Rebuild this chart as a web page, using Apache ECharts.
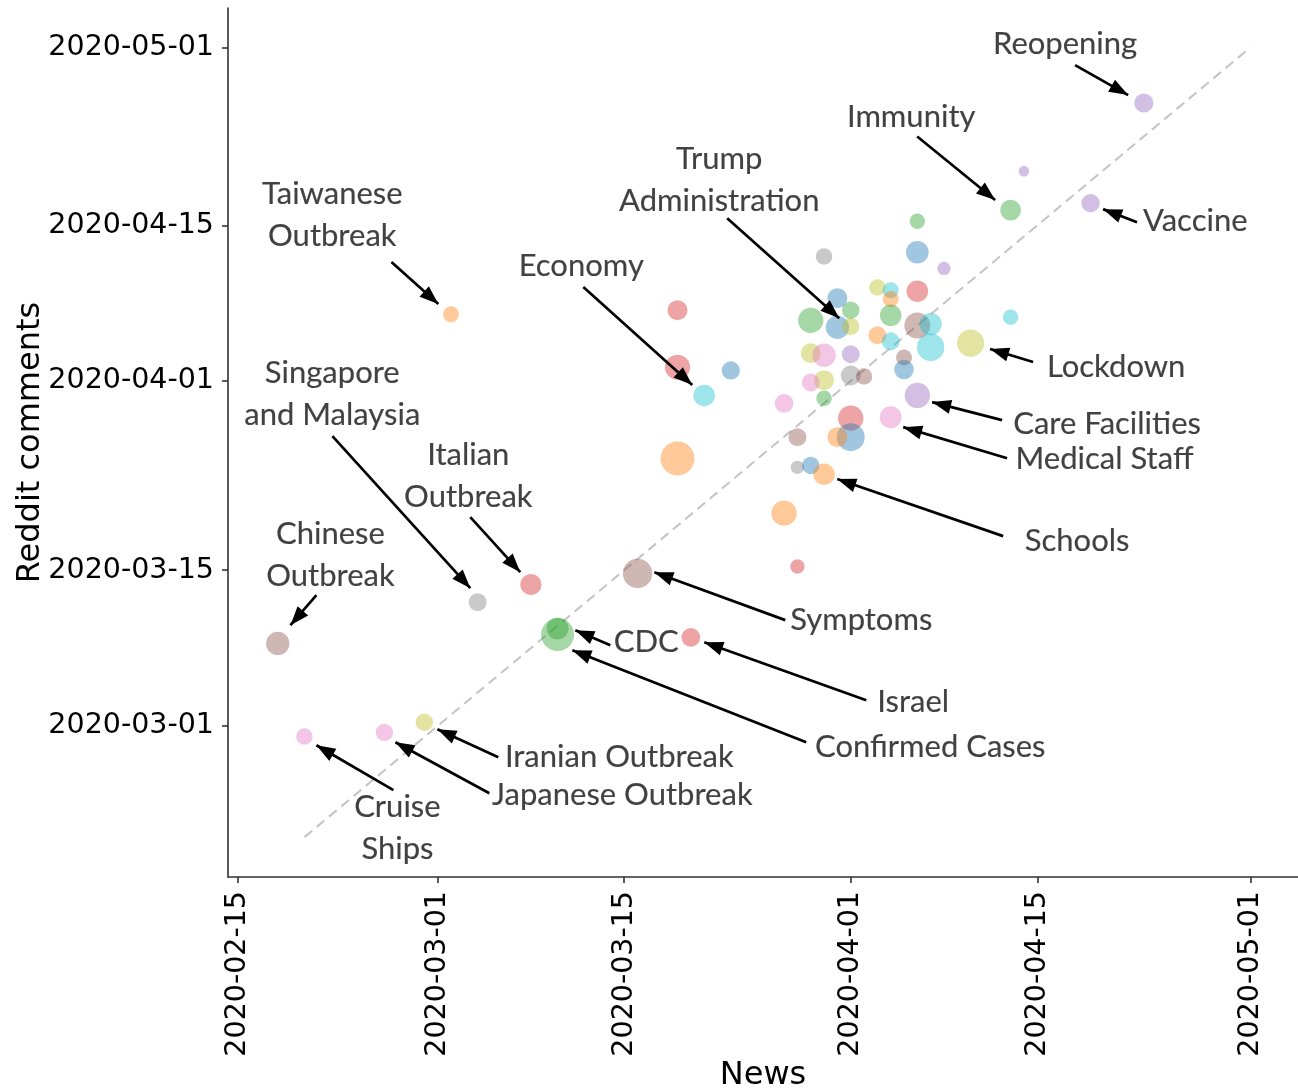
<!DOCTYPE html>
<html><head><meta charset="utf-8">
<script src="https://cdn.jsdelivr.net/npm/echarts@6/dist/echarts.min.js"></script>
<style>html,body{margin:0;padding:0;background:#fff}#c{width:1298px;height:1090px}</style>
</head><body><div id="c"></div>
<script>
// ---- data ----
const tickDates = ['2020-02-15','2020-03-01','2020-03-15','2020-04-01','2020-04-15','2020-05-01'];
const newsPeak = ['2020-04-23','2020-04-14','2020-04-19','2020-04-13','2020-04-06','2020-04-06','2020-03-30','2020-04-08','2020-04-03','2020-04-04',
  '2020-04-06','2020-04-04','2020-03-31','2020-03-19','2020-03-02','2020-04-01','2020-04-04','2020-04-13','2020-03-29','2020-04-06',
  '2020-04-07','2020-03-31','2020-04-01','2020-04-03','2020-04-04','2020-04-07','2020-04-10','2020-03-29','2020-03-30','2020-04-01',
  '2020-04-05','2020-03-19','2020-03-23','2020-04-05','2020-04-01','2020-04-02','2020-03-30','2020-03-29','2020-03-21','2020-04-06',
  '2020-03-30','2020-03-27','2020-04-04','2020-04-01','2020-04-01','2020-03-31','2020-03-28','2020-03-19','2020-03-28','2020-03-29',
  '2020-03-30','2020-03-27','2020-03-28','2020-03-16','2020-03-08','2020-03-04','2020-03-10','2020-03-10','2020-03-20','2020-02-18',
  '2020-02-29','2020-02-26','2020-02-20'];
const redditPeak = ['2020-04-26 00:00','2020-04-19 21:00','2020-04-17 00:00','2020-04-16 09:00','2020-04-15 09:00','2020-04-12 14:00','2020-04-12 05:00','2020-04-11 03:00','2020-04-09 10:00','2020-04-09 04:00',
  '2020-04-09 02:00','2020-04-08 09:00','2020-04-08 11:00','2020-04-07 09:00','2020-04-07 00:00','2020-04-07 09:00','2020-04-06 22:00','2020-04-06 18:00','2020-04-06 11:00','2020-04-06 00:00',
  '2020-04-06 03:00','2020-04-05 20:00','2020-04-05 22:00','2020-04-05 03:00','2020-04-04 14:00','2020-04-04 01:00','2020-04-04 10:00','2020-04-03 12:00','2020-04-03 08:00','2020-04-03 10:00',
  '2020-04-03 03:00','2020-04-02 06:00','2020-04-01 23:00','2020-04-02 01:00','2020-04-01 12:00','2020-04-01 10:00','2020-04-01 02:00','2020-03-31 21:00','2020-03-30 17:00','2020-03-30 17:00',
  '2020-03-30 11:00','2020-03-30 00:00','2020-03-28 18:00','2020-03-28 16:00','2020-03-26 23:00','2020-03-26 23:00','2020-03-26 23:00','2020-03-25 01:00','2020-03-24 06:00','2020-03-24 10:00',
  '2020-03-23 15:00','2020-03-20 03:00','2020-03-15 08:00','2020-03-14 17:00','2020-03-13 17:00','2020-03-12 03:00','2020-03-09 18:00','2020-03-09 05:00','2020-03-08 23:00','2020-03-08 10:00',
  '2020-03-01 08:00','2020-02-29 10:00','2020-02-29 01:00'];
const volume = [23,7,21,27,15,32,17,11,17,16,
  29,16,25,25,16,19,29,15,40,42,
  31,34,19,20,20,47,46,25,34,20,
  16,39,21,24,25,17,25,20,29,40,
  15,22,30,40,49,25,20,72,11,19,
  29,40,13,54,28,20,30,68,22,34,
  19,19,17];
const topicHue = [4,4,4,2,2,0,7,4,8,9,
  3,1,0,3,1,2,2,9,2,5,
  9,0,8,1,9,9,8,8,6,4,
  5,3,0,0,7,5,8,6,9,4,
  2,6,6,3,0,1,5,1,7,0,
  1,1,3,5,3,7,2,2,3,5,
  8,6,6];
const diagonal = ['2020-02-20','2020-05-01'];

// ---- annotations (days after 2020-03-01: [news, reddit]) ----
const noteText = ['Reopening','Immunity','Trump\nAdministration','Vaccine','Taiwanese\nOutbreak','Economy','Lockdown','Singapore\nand Malaysia',
  'Care Facilities','Medical Staff','Italian\nOutbreak','Schools','Chinese\nOutbreak','Symptoms','CDC','Israel','Confirmed Cases',
  'Iranian Outbreak','Japanese Outbreak','Cruise\nShips'];
const noteAt = [[47.09,61.30],[35.54,54.74],[21.13,49.12],[56.86,45.39],[-7.91,45.93],[10.78,41.34],[50.92,32.26],[-7.91,29.83],
  [50.24,27.13],[50.05,23.98],[2.30,22.46],[47.99,16.61],[-8.05,15.35],[31.79,9.51],[15.66,7.53],[35.69,2.13],[36.97,-1.92],
  [13.63,-2.81],[13.86,-6.23],[-3.02,-9.20]];
const arrowFrom = [[47.84,59.41],[35.99,52.99],[21.73,45.65],[52.49,45.29],[-3.47,41.70],[10.93,39.45],[44.69,32.71],[-7.90,26.05],
  [42.36,27.49],[42.74,24.07],[2.45,18.77],[42.44,17.06],[-9.10,11.75],[26.09,9.51],[12.96,7.26],[32.17,2.31],[27.66,-1.47],
  [4.55,-2.81],[3.88,-6.05],[-3.32,-5.78]];
const arrowTo = [[51.82,56.71],[41.84,47.28],[30.14,36.66],[49.94,46.46],[0.05,37.92],[19.11,30.64],[41.46,33.88],[2.45,12.38],
  [37.11,29.11],[34.94,26.86],[6.20,13.82],[29.99,22.19],[-11.05,9.06],[16.26,13.82],[10.33,8.61],[20.01,7.53],[10.11,6.81],
  [-0.02,-0.30],[-3.17,-1.47],[-9.10,-1.74]];

// ---- helpers ----
function ts(s){const m=s.match(/(\d+)-(\d+)-(\d+)(?:[ T](\d+):(\d+))?/);return Date.UTC(+m[1],+m[2]-1,+m[3],+(m[4]||0),+(m[5]||0));}
const DAY=864e5, MAR1=ts('2020-03-01');
const d2t=d=>MAR1+d*DAY;
const pad=n=>(n<10?'0':'')+n;
const fmt=v=>{const d=new Date(v);return d.getUTCFullYear()+'-'+pad(d.getUTCMonth()+1)+'-'+pad(d.getUTCDate());};
const palette=['#1f77b4','#ff7f0e','#2ca02c','#d62728','#9467bd','#8c564b','#e377c2','#7f7f7f','#bcbd22','#17becf'];
const tickVals=tickDates.map(ts);
const arrowHead='path://M0,0 M38,38 M19,19 L26,38 L12,38 Z';

const axisCommon={
  type:'value',
  scale:true,
  axisLine:{show:true,lineStyle:{color:'#333',width:1.6}},
  axisTick:{show:true,customValues:tickVals,length:6,lineStyle:{color:'#333',width:1.6}},
  splitLine:{show:false},
  axisLabel:{customValues:tickVals,formatter:fmt,fontFamily:'DejaVu Sans',fontSize:28.5,color:'#000',margin:14},
  nameLocation:'middle',
  nameMoveOverlap:false,
  nameTextStyle:{fontFamily:'DejaVu Sans',fontSize:32,color:'#000'}
};

const chart=echarts.init(document.getElementById('c'),null,{renderer:'canvas'});
chart.setOption({
  animation:false,
  backgroundColor:'#fff',
  grid:{left:228,right:0,top:8,bottom:213,outerBoundsMode:'none'},
  xAxis:Object.assign({},axisCommon,{
    min:ts('2020-02-14 06:20'),max:ts('2020-05-04 13:40'),
    name:'News',nameGap:183,
    axisLabel:Object.assign({},axisCommon.axisLabel,{rotate:90})
  }),
  yAxis:Object.assign({},axisCommon,{
    min:ts('2020-02-16 10:00'),max:ts('2020-05-04 13:00'),
    name:'Reddit comments',nameGap:181
  }),
  series:[
    {type:'line',data:diagonal.map(d=>[ts(d),ts(d)]),symbol:'none',silent:true,z:1,
     lineStyle:{color:'#c4c4c4',width:2,type:[10,6]}},
    {type:'scatter',z:2,silent:true,
     data:newsPeak.map((x,i)=>({value:[ts(x),ts(redditPeak[i]),volume[i]],itemStyle:{color:palette[topicHue[i]]}})),
     symbolSize:v=>4*Math.sqrt(v[2]),
     itemStyle:{opacity:0.42}},
    {type:'lines',coordinateSystem:'cartesian2d',z:4,silent:true,
     data:arrowFrom.map((f,i)=>({coords:[[d2t(f[0]),d2t(f[1])],[d2t(arrowTo[i][0]),d2t(arrowTo[i][1])]]})),
     symbol:['none',arrowHead],symbolSize:[10,38],
     lineStyle:{color:'#000',width:2.7,opacity:1,curveness:0}},
    {type:'scatter',z:5,silent:true,
     data:noteAt.map((p,i)=>[d2t(p[0]),d2t(p[1]),noteText[i]]),
     symbolSize:1,itemStyle:{color:'rgba(0,0,0,0)'},
     label:{show:true,position:'inside',formatter:p=>p.value[2],fontFamily:'Lato',fontSize:31,color:'#111',
       textBorderColor:'#111',textBorderWidth:0.15,
       lineHeight:42,align:'center',verticalAlign:'middle'}}
  ]
});
</script></body></html>
